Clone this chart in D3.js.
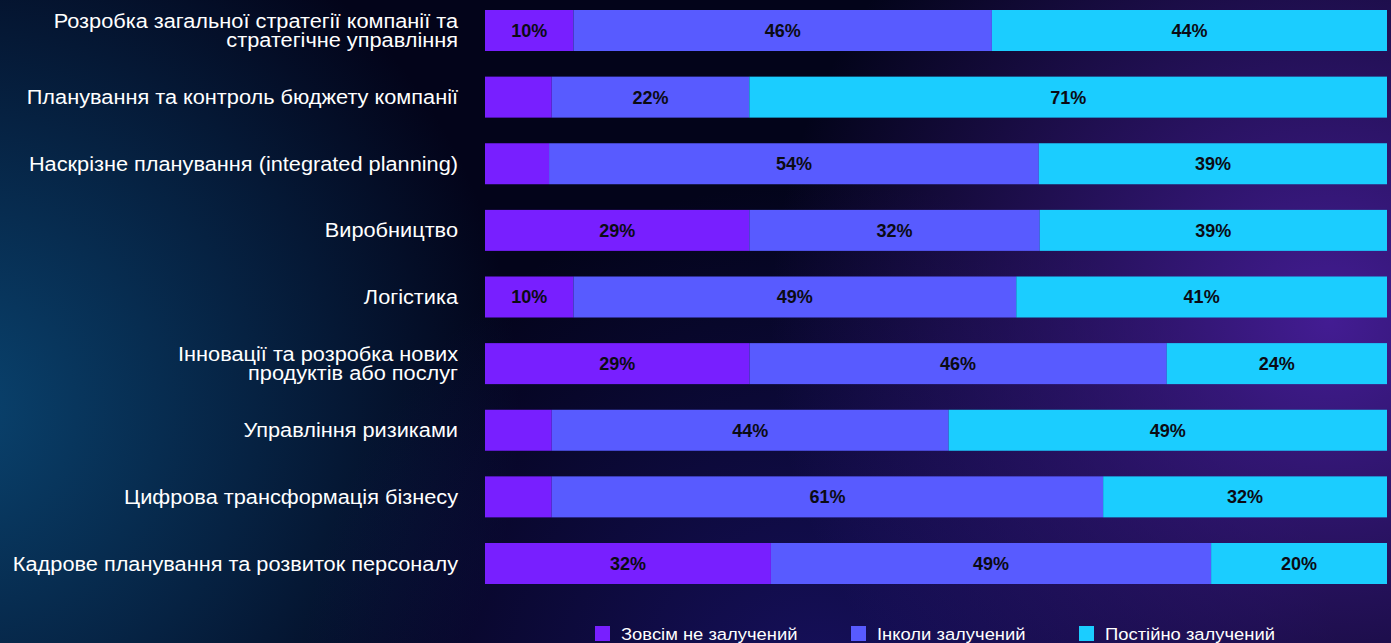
<!DOCTYPE html>
<html>
<head>
<meta charset="utf-8">
<script src="https://cdn.jsdelivr.net/npm/d3@7"></script>
<style>
  html, body { margin: 0; padding: 0; background: #03041a; }
  svg { display: block; }
</style>
</head>
<body>
<div id="chart"></div>
<script>
// categories (top to bottom), "\n" marks a line break in the label
var categories = [
  "Розробка загальної стратегії компанії та\nстратегічне управління",
  "Планування та контроль бюджету компанії",
  "Наскрізне планування (integrated planning)",
  "Виробництво",
  "Логістика",
  "Інновації та розробка нових\nпродуктів або послуг",
  "Управління ризиками",
  "Цифрова трансформація бізнесу",
  "Кадрове планування та розвиток персоналу"
];

var seriesNames = ["Зовсім не залучений", "Інколи залучений", "Постійно залучений"];

// shares in % per category (labels show them rounded)
var notInvolved    = [9.8, 7.4, 7.1, 29.3, 9.8, 29.3, 7.4, 7.4, 31.7];
var sometimes      = [46.4, 21.9, 54.3, 32.2, 49.1, 46.2, 44.0, 61.2, 48.8];
var alwaysInvolved = [43.8, 70.7, 38.6, 38.5, 41.1, 24.4, 48.6, 31.5, 19.5];

var colors = ["#781fff", "#585bff", "#1bcdff"];

var W = 1391, H = 643;
var stretch = 1.115; // text in the source is a bit wider than plain Arial

var rows = categories.map(function (c, i) {
  return { cat: c, s0: notInvolved[i], s1: sometimes[i], s2: alwaysInvolved[i] };
});

var svg = d3.select("#chart").append("svg")
  .attr("width", W)
  .attr("height", H);

// background glows
var defs = svg.append("defs");
function glow(id, cx, cy, r, col, op) {
  var g = defs.append("radialGradient")
    .attr("id", id)
    .attr("gradientUnits", "userSpaceOnUse")
    .attr("cx", cx).attr("cy", cy).attr("r", r);
  g.append("stop").attr("offset", "0%").attr("stop-color", col).attr("stop-opacity", op);
  g.append("stop").attr("offset", "100%").attr("stop-color", col).attr("stop-opacity", 0);
}
glow("gLeft", -40, 410, 560, "#0a4a78", 0.9);
glow("gRight", 1330, 320, 560, "#4a1fa0", 0.9);
glow("gBottom", 820, 700, 520, "#24188a", 0.6);

svg.append("rect").attr("width", W).attr("height", H).attr("fill", "#03041a");
["gLeft", "gBottom", "gRight"].forEach(function (id) {
  svg.append("rect").attr("width", W).attr("height", H).attr("fill", "url(#" + id + ")");
});

var x = d3.scaleLinear().domain([0, 1]).range([485, 1387]);
var y = d3.scaleBand().domain(categories).range([10, 584]).paddingInner(0.3846).paddingOuter(0);

var stack = d3.stack().keys(["s0", "s1", "s2"]).offset(d3.stackOffsetExpand);
var layers = stack(rows);

var layer = svg.selectAll("g.layer")
  .data(layers)
  .enter()
  .append("g")
  .attr("class", "layer")
  .attr("fill", function (d, i) { return colors[i]; });

layer.selectAll("rect")
  .data(function (d) { return d; })
  .enter()
  .append("rect")
  .attr("x", function (d) { return x(d[0]); })
  .attr("y", function (d) { return y(d.data.cat); })
  .attr("width", function (d) { return x(d[1]) - x(d[0]); })
  .attr("height", y.bandwidth());

// value labels inside the segments (small ones are left out)
layers.forEach(function (ly) {
  svg.append("g").selectAll("text")
    .data(ly.filter(function (d) { return Math.round(d.data[ly.key]) >= 10; }))
    .enter()
    .append("text")
    .attr("x", function (d) { return (x(d[0]) + x(d[1])) / 2; })
    .attr("y", function (d) { return y(d.data.cat) + y.bandwidth() / 2; })
    .attr("dy", "0.36em")
    .attr("text-anchor", "middle")
    .attr("font-family", "'Liberation Sans', Arial, sans-serif")
    .attr("font-weight", "bold")
    .attr("font-size", "18px")
    .attr("fill", "#0b0b14")
    .text(function (d) { return Math.round(d.data[ly.key]) + "%"; });
});

// category labels
var lab = svg.append("g").selectAll("text")
  .data(categories)
  .enter()
  .append("text")
  .attr("transform", function (d) {
    return "translate(458," + (y(d) + y.bandwidth() / 2) + ") scale(" + stretch + ",1)";
  })
  .attr("text-anchor", "end")
  .attr("font-family", "'Liberation Sans', Arial, sans-serif")
  .attr("font-size", "19.5px")
  .attr("fill", "#ffffff");

lab.each(function (d) {
  var lines = d.split("\n");
  var t = d3.select(this);
  var lh = 18.7;
  var base = -(lines.length - 1) * lh / 2 + 7;
  lines.forEach(function (ln, k) {
    t.append("tspan")
      .attr("x", 0)
      .attr("y", base + k * lh)
      .text(ln);
  });
});

// legend
var legX = [595, 851, 1079];
var leg = svg.append("g").selectAll("g")
  .data(seriesNames)
  .enter()
  .append("g")
  .attr("transform", function (d, i) { return "translate(" + legX[i] + ",626)"; });

leg.append("rect")
  .attr("width", 15)
  .attr("height", 15)
  .attr("fill", function (d, i) { return colors[i]; });

leg.append("text")
  .attr("transform", "translate(26,14) scale(" + stretch + ",1)")
  .attr("font-family", "'Liberation Sans', Arial, sans-serif")
  .attr("font-size", "16.5px")
  .attr("fill", "#ffffff")
  .text(function (d) { return d; });
</script>
</body>
</html>
